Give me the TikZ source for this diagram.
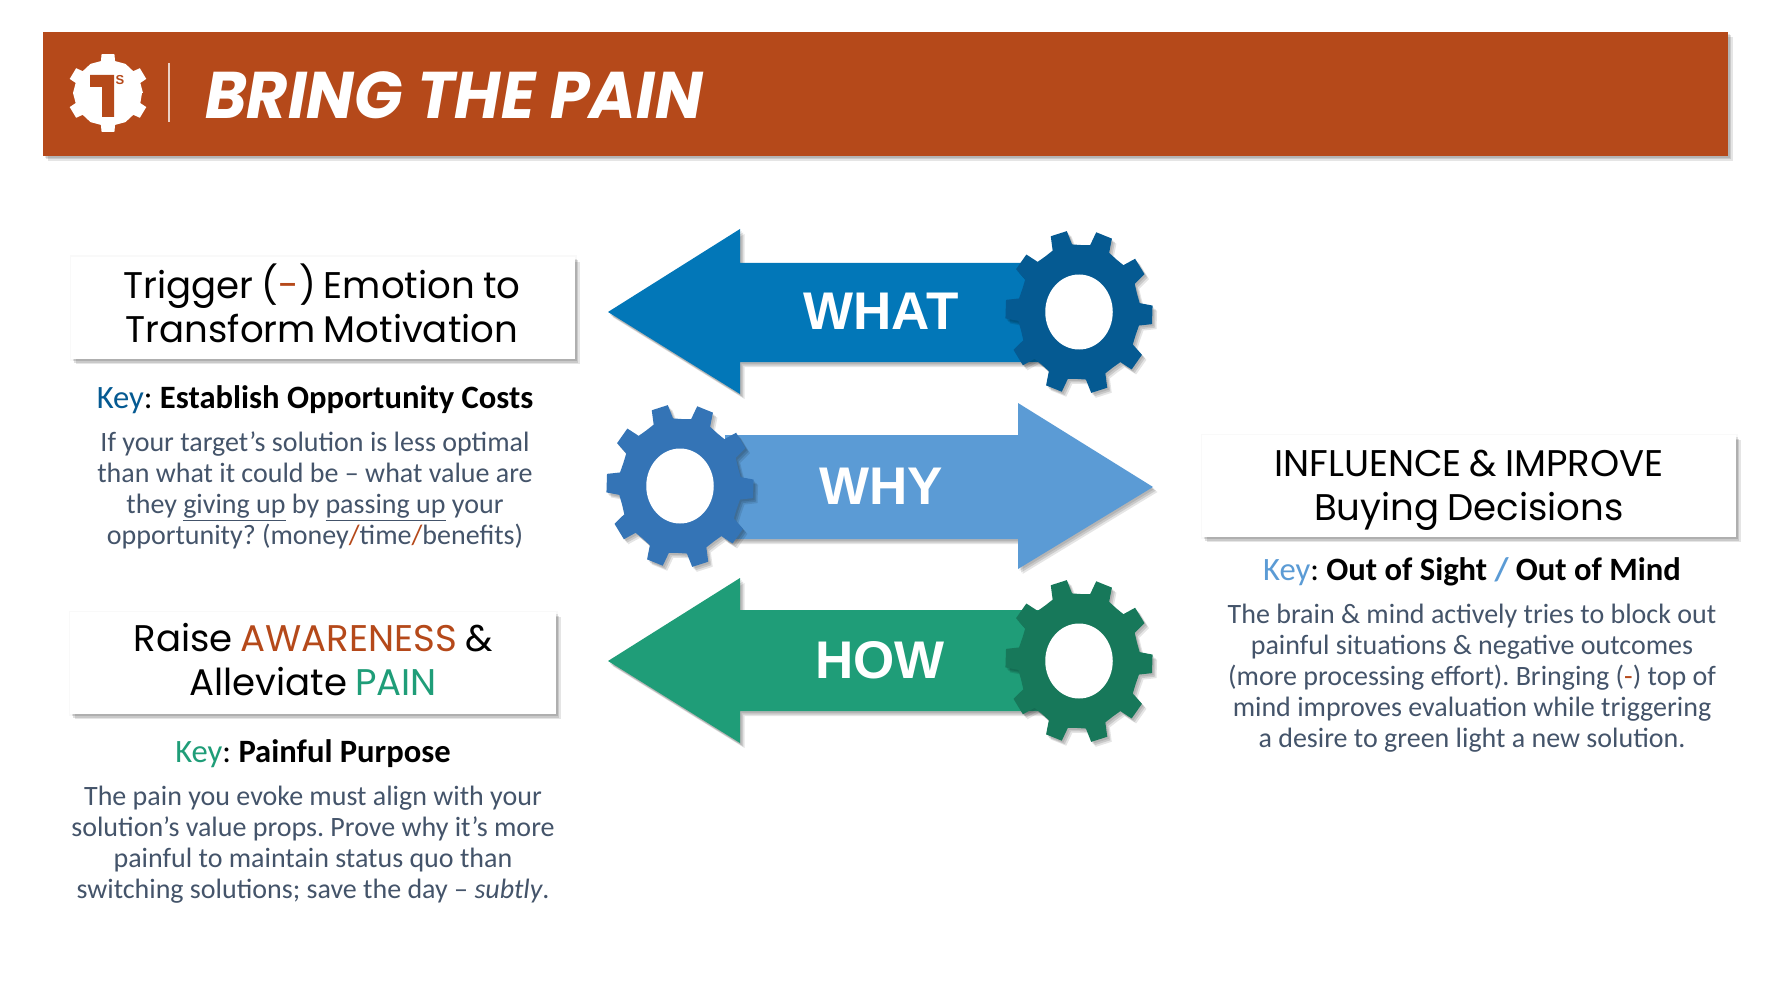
\documentclass[tikz,border=0pt]{standalone}
\usepackage{fontspec}
\setmainfont{Carlito}
\newfontfamily\popfont{Poppins}
\newfontfamily\arialfont{Liberation Sans}
\definecolor{rust}{HTML}{B5491A}
\definecolor{bodygrey}{HTML}{44546A}
\definecolor{whatarrow}{HTML}{0277B8}
\definecolor{whatgear}{HTML}{055A92}
\definecolor{whyarrow}{HTML}{5B9BD5}
\definecolor{whygear}{HTML}{3474B6}
\definecolor{howarrow}{HTML}{1F9D78}
\definecolor{howgear}{HTML}{17785A}
\newcommand{\headtype}[1]{{\popfont\fontsize{37.1}{44}\selectfont\spaceskip 8pt\relax #1\par}}
\tikzset{
  softshadow/.style={
    preaction={fill=black,fill opacity=.10,transform canvas={xshift=1.5pt,yshift=-2pt}},
    preaction={fill=black,fill opacity=.12,transform canvas={xshift=3pt,yshift=-3.5pt}},
    preaction={fill=black,fill opacity=.10,transform canvas={xshift=4.5pt,yshift=-5pt}}},
  halo/.style={preaction={draw=black,draw opacity=.025,line width=3pt}},
  headbox/.style={halo,softshadow,fill=white,inner sep=0pt,minimum height=102pt},
  headtext/.style={inner sep=0pt,text=black,align=center,text width=500pt},
  keyline/.style={anchor=base,inner sep=0pt,font=\frenchspacing\fontsize{32.6}{36}\selectfont,text=black},
  bodytext/.style={anchor=north,inner sep=0pt,align=center,text=bodygrey,font=\frenchspacing\fontsize{28}{31}\selectfont},
  arrowlabel/.style={anchor=base,inner sep=0pt,text=white,font=\arialfont\bfseries\fontsize{53}{60}\selectfont}
}
% #1 centre x, #2 centre y, #3 colour
\newcommand{\bigwheel}[3]{%
  \fill[fill=#3,softshadow,shift={(#1,#2)},xscale=.9]
    (-16:67) \foreach \a in {2,38,...,326}{ -- (\a-9.5:68) -- (\a-6.5:82) -- (\a+6.5:82) -- (\a+9.5:68) -- (\a+18:67) } -- cycle;
  \fill[white,shift={(#1,#2)},xscale=.9] (0,0) circle (37.5);
}
\begin{document}
\begin{tikzpicture}[x=1pt,y=-1pt]
\useasboundingbox[fill=white] (0,0) rectangle (1769,992);
% banner
\path[fill=rust,softshadow] (43,32) rectangle (1728,156);
% logo
\fill[white,shift={(108,93)},yscale=.96]
  (0:34) \foreach \a in {30,90,...,330}{ -- (\a-12:34) -- (\a-9:41) -- (\a+9:41) -- (\a+12:34) -- (\a+30:35) } -- cycle;
\fill[rust] (90,75) -- (114,75) -- (114,117) -- (102,117) -- (102,87) -- (90,87) -- cycle;
\node[inner sep=0pt,text=rust,font=\arialfont\bfseries\fontsize{13}{13}\selectfont] (logoS) at (120,80) {S};
\coordinate (sepTop) at (169,63);
\coordinate (sepBot) at (169,122);
\draw[color=white!75!rust,line width=1.2pt] (sepTop) -- (sepBot);
\node[anchor=base west,inner sep=0pt,text=white] (title) at (205,119)
  {\popfont\bfseries\itshape\scalebox{.96}[1]{\fontsize{66}{66}\selectfont BRING THE PAIN}};
% arrows
\path[fill=whatarrow,softshadow] (608,312) -- (740,229) -- (740,263) -- (1040,263) -- (1040,362) -- (740,362) -- (740,394) -- cycle;
\bigwheel{1079}{312}{whatgear}
\path[fill=whyarrow,softshadow] (1153,487) -- (1018,403) -- (1018,435) -- (725,435) -- (725,539) -- (1018,539) -- (1018,569) -- cycle;
\bigwheel{680}{486}{whygear}
\path[fill=howarrow,softshadow] (608,661) -- (740,578) -- (740,610) -- (1040,610) -- (1040,711) -- (740,711) -- (740,743) -- cycle;
\bigwheel{1079}{661}{howgear}
\node[arrowlabel] (what) at (881,329) {WHAT};
\node[arrowlabel] (why) at (881,504) {WHY};
\node[arrowlabel] (how) at (880,678) {HOW};
% left top
\node[headbox,minimum width=504pt] (box1) at (323,308) {};
\node[headtext] (head1) at (322,303.6) {\headtype{Trigger (\textcolor{rust}{-}) Emotion to\\Transform Motivation}};
\node[keyline] (key1) at (315,408) {\textcolor{whatgear}{Key}: \textbf{Establish Opportunity Costs}};
\node[bodytext] (body1) at (315,432) {If your target’s solution is less optimal\\than what it could be – what value are\\they \underline{giving up} by \underline{passing up} your\\opportunity? (money\textcolor{rust}{/}time\textcolor{rust}{/}benefits)};
% left bottom
\node[headbox,minimum width=486pt] (box2) at (313,663) {};
\node[headtext] (head2) at (313,660) {\headtype{Raise \textcolor{rust}{AWARENESS} \&\\Alleviate \textcolor{howarrow}{PAIN}}};
\node[keyline] (key2) at (313,762) {\textcolor{howarrow}{Key}: \textbf{Painful Purpose}};
\node[bodytext] (body2) at (313,786) {The pain you evoke must align with your\\solution’s value props. Prove why it’s more\\painful to maintain status quo than\\switching solutions; save the day – \textit{subtly}.};
% right
\node[headbox,minimum width=534pt] (box3) at (1469,486) {};
\node[headtext] (head3) at (1469,490.5) {\headtype{INFLUENCE \& IMPROVE\\Buying Decisions}};
\node[keyline] (key3) at (1472,580) {\textcolor{whyarrow}{Key}: \textbf{Out of Sight \textcolor{whyarrow}{/} Out of Mind}};
\node[bodytext] (body3) at (1472,604) {The brain \& mind actively tries to block out\\painful situations \& negative outcomes\\(more processing effort). Bringing (\textcolor{rust}{-}) top of\\mind improves evaluation while triggering\\a desire to green light a new solution.};
\end{tikzpicture}
\end{document}
